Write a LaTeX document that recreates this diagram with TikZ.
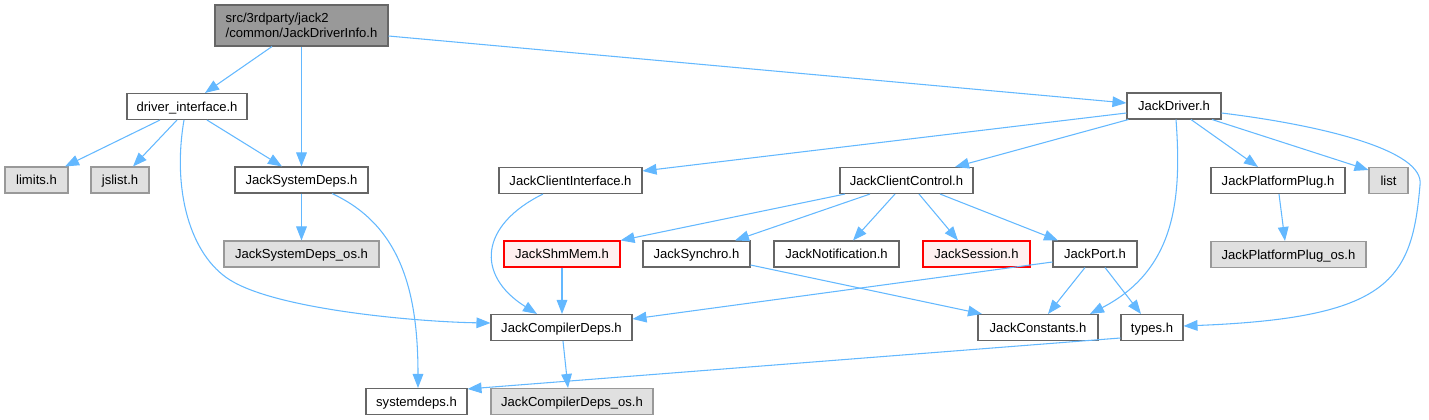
\documentclass[tikz,border=0pt]{standalone}
\usepackage{fontspec}
\setmainfont{Liberation Sans}
\usetikzlibrary{arrows.meta,calc}
\definecolor{edgeblue}{HTML}{63B8FF}
\definecolor{bord}{HTML}{666666}
\definecolor{extbord}{HTML}{999999}
\definecolor{extfill}{HTML}{E0E0E0}
\definecolor{rootfill}{HTML}{999999}
\definecolor{redfill}{HTML}{FFF0F0}
\definecolor{redbord}{HTML}{FF0000}
\begin{document}
\begin{tikzpicture}[x=0.75pt,y=-0.75pt,
  box/.style={draw=bord,fill=white,line width=0.8pt,inner sep=0pt,minimum height=19.5pt,
    text height=7pt,text depth=0pt,
    font=\fontsize{9.8pt}{10.8pt}\selectfont},
  ext/.style={box,draw=extbord,fill=extfill},
  redbox/.style={box,draw=redbord,fill=redfill},
  rootbox/.style={box,fill=rootfill,minimum height=30.75pt,align=left,text height=,text depth=},
  bw/.style={minimum width=#1*0.75pt},
  edge/.style={draw=edgeblue,line width=0.8pt,-{Triangle[length=10.5pt,width=8pt]}}]
\useasboundingbox (0,0) rectangle (1429,420);
% nodes
\node[rootbox,bw=173] (root) at (301.5,25.5) {src/3rdparty/jack2\\/common/JackDriverInfo.h};
\node[box,bw=120] (drv) at (187,106.5) {driver\_interface.h};
\node[ext,bw=63] (limits) at (36.5,180) {limits.h};
\node[ext,bw=58] (jslist) at (120,180) {jslist.h};
\node[box,bw=133] (sysdeps) at (301.5,180) {JackSystemDeps.h};
\node[ext,bw=155] (sysdepsos) at (301.5,254) {JackSystemDeps\_os.h};
\node[redbox,bw=116] (shm) at (562,254) {JackShmMem.h};
\node[box,bw=141] (compdeps) at (561.5,327.5) {JackCompilerDeps.h};
\node[box,bw=101] (systemdeps) at (416.5,401.5) {systemdeps.h};
\node[ext,bw=162] (compdepsos) at (572,401.5) {JackCompilerDeps\_os.h};
\node[box,bw=143] (clientif) at (570.5,180.5) {JackClientInterface.h};
\node[box,bw=133] (clientctl) at (906.5,180.5) {JackClientControl.h};
\node[box,bw=107] (synchro) at (696.5,254) {JackSynchro.h};
\node[box,bw=125] (notif) at (836.5,254) {JackNotification.h};
\node[redbox,bw=107] (session) at (976.5,254) {JackSession.h};
\node[box,bw=84] (port) at (1095,254) {JackPort.h};
\node[box,bw=120] (constants) at (1038,327.5) {JackConstants.h};
\node[box,bw=62] (types) at (1152,327.5) {types.h};
\node[box,bw=94] (driver) at (1174,106) {JackDriver.h};
\node[box,bw=134] (platplug) at (1278,180.5) {JackPlatformPlug.h};
\node[ext,bw=39] (list) at (1388.5,180.5) {list};
\node[ext,bw=155] (platplugos) at (1288.5,254.5) {JackPlatformPlug\_os.h};
% edges
\draw[edge] ($(root.south)+(-29.5,0)$) -- ($(drv.north)+(18,0)$);
\draw[edge] (root.south) -- (sysdeps.north);
\draw[edge] ($(root.east)+(0,10.5)$) -- ($(driver.west)+(0,-3)$);
\draw[edge] ($(drv.south)+(-27,0)$) -- ($(limits.north)+(28.5,0)$);
\draw[edge] ($(drv.south)+(-10,0)$) -- ($(jslist.north)+(13,0)$);
\draw[edge] ($(drv.south)+(20,0)$) -- ($(sysdeps.north)+(-19.5,0)$);
\draw[edge] ($(drv.south)+(-3,0)$) .. controls (172,190) and (190,255) .. (230,280) .. controls (278,310) and (420,322) .. ($(compdeps.west)+(0,-4.5)$);
\draw[edge] (sysdeps.south) -- (sysdepsos.north);
\draw[edge] ($(sysdeps.south)+(30.5,0)$) .. controls (400,225) and (418,290) .. ($(systemdeps.north)+(1.5,0)$);
\draw[edge] ($(driver.west)+(0,7)$) -- ($(clientif.east)+(0,-9.5)$);
\draw[edge] ($(driver.south west)+(2,0)$) -- ($(clientctl.north)+(48.5,0)$);
\draw[edge] ($(driver.south)+(2,0)$) .. controls (1182,200) and (1175,270) .. ($(constants.north)+(52,0)$);
\draw[edge] ($(driver.south)+(17,0)$) -- ($(platplug.north)+(-20,0)$);
\draw[edge] ($(driver.south)+(38,0)$) -- ($(list.west)+(0,-10.5)$);
\draw[edge] ($(driver.east)+(0,7)$) .. controls (1320,125) and (1425,150) .. (1420,185) .. controls (1412,280) and (1390,318) .. ($(types.east)+(0,-1.5)$);
\draw[edge] ($(clientif.south)+(-27.5,0)$) .. controls (480,225) and (475,275) .. ($(compdeps.north)+(-24.5,0)$);
\draw[edge] ($(clientctl.south)+(-61.5,0)$) -- (shm.north east);
\draw[edge] ($(clientctl.south)+(-36.5,0)$) -- ($(synchro.north)+(38.5,0)$);
\draw[edge] ($(clientctl.south)+(-11.5,0)$) -- ($(notif.north)+(16.5,0)$);
\draw[edge] ($(clientctl.south)+(12.5,0)$) -- ($(session.north)+(-18.5,0)$);
\draw[edge] ($(clientctl.south)+(33.5,0)$) -- ($(port.north)+(-37,0)$);
\draw[edge] (shm.south) -- ($(compdeps.north)+(0.5,0)$);
\draw[edge] ($(synchro.east)+(0,11)$) -- ($(constants.north)+(-56,0)$);
\draw[edge] ($(port.west)+(0,8)$) -- ($(compdeps.east)+(0,-8.5)$);
\draw[edge] ($(port.south)+(-10,0)$) -- ($(constants.north)+(10,0)$);
\draw[edge] ($(port.south)+(10,0)$) -- ($(types.north)+(-11,0)$);
\draw[edge] ($(compdeps.south)+(1.5,0)$) -- ($(compdepsos.north)+(-4,0)$);
\draw[edge] ($(platplug.south)+(1,0)$) -- ($(platplugos.north)+(-3.5,0)$);
\draw[edge] ($(types.west)+(0,10.5)$) -- ($(systemdeps.north east)+(0,1)$);
\end{tikzpicture}
\end{document}
